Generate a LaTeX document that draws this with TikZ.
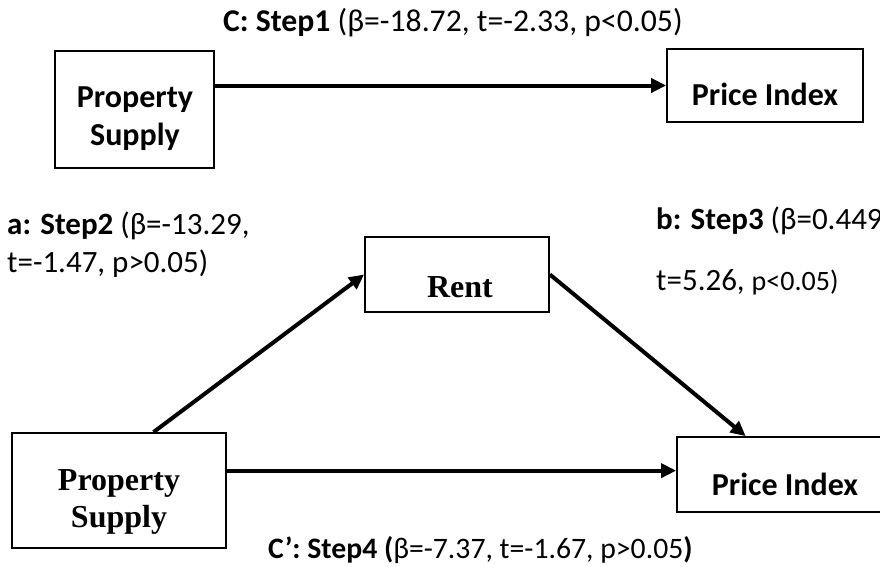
\documentclass[tikz,border=0pt]{standalone}
\usepackage{fontspec}
\setmainfont{Carlito}
\newfontfamily\timesfont{Liberation Serif}
\usetikzlibrary{arrows.meta,calc}

\begin{document}
\begin{tikzpicture}[x=1pt,y=-1pt,
  box/.style={draw,line width=1.8pt,inner sep=0pt},
  conn/.style={line width=4pt,-{Triangle[length=15pt,width=14pt]}},
  lbl/.style={font=\fontsize{31}{37}\selectfont,anchor=base west,inner sep=0pt},
  sanstxt/.style={font=\fontsize{32}{38}\selectfont\bfseries,anchor=base,inner sep=0pt},
  seriftxt/.style={font=\fontsize{32}{38}\selectfont\timesfont\bfseries,anchor=base,inner sep=0pt}
]
\useasboundingbox (0,0) rectangle (880,566);
\clip (0,0) rectangle (880,566);

% ---- total effect (step 1) ----
\node[box,minimum width=159pt,minimum height=117pt] (ps1) at (134.5,109.5) {};
\node[sanstxt] (ps1a) at (135,107) {Property};
\node[sanstxt] (ps1b) at (135,145) {Supply};

\node[box,minimum width=196pt,minimum height=73pt] (pi1) at (765,85.5) {};
\node[sanstxt] (pi1t) at (765,105) {Price Index};

\draw[conn] (ps1.east |- pi1.west) -- (pi1.west);
\node[lbl,font=\fontsize{31.7}{37}\selectfont] (c1) at (223,31)
  {\textbf{C: Step1} (β=-18.72, t=-2.33, p<0.05)};

% ---- mediation model (steps 2--4) ----
\node[box,minimum width=214pt,minimum height=115pt] (ps2) at (119,490.5) {};
\node[seriftxt] (ps2a) at (119,490) {Property};
\node[seriftxt] (ps2b) at (119,527) {Supply};

\node[box,minimum width=184pt,minimum height=75pt] (rent) at (457,274.5) {};
\node[seriftxt] (rentt) at (460,297) {Rent};

\node[box,minimum width=213pt,minimum height=75pt] (pi2) at (783.5,474.5) {};
\node[sanstxt] (pi2t) at (785,495) {Price Index};

\coordinate (aS) at ($(ps2.north west)!0.66!(ps2.north east)$);
\coordinate (bE) at ($(pi2.north west)!0.324!(pi2.north east)$);
\coordinate (cS) at ($(ps2.north east)!0.33!(ps2.south east)$);

\draw[conn] (aS) -- (rent.west);
\draw[conn] (rent.east) -- (bE);
\draw[conn] (cS) -- (pi2.west |- cS);

\node[lbl] (a1) at (7,234) {\textbf{a: Step2} (β=-13.29,};
\node[lbl] (a2) at (7,272) {t=-1.47, p>0.05)};
\node[lbl] (b1) at (656,229) {\textbf{b: Step3} (β=0.449,};
\node[lbl] (b2) at (656,290) {t=5.26, {\fontsize{28}{33}\selectfont p<0.05)}};
\node[lbl,font=\fontsize{29.7}{35}\selectfont] (c2) at (268,558)
  {\textbf{C’: Step4 (}β=-7.37, t=-1.67, p>0.05\textbf{)}};
\end{tikzpicture}
\end{document}
